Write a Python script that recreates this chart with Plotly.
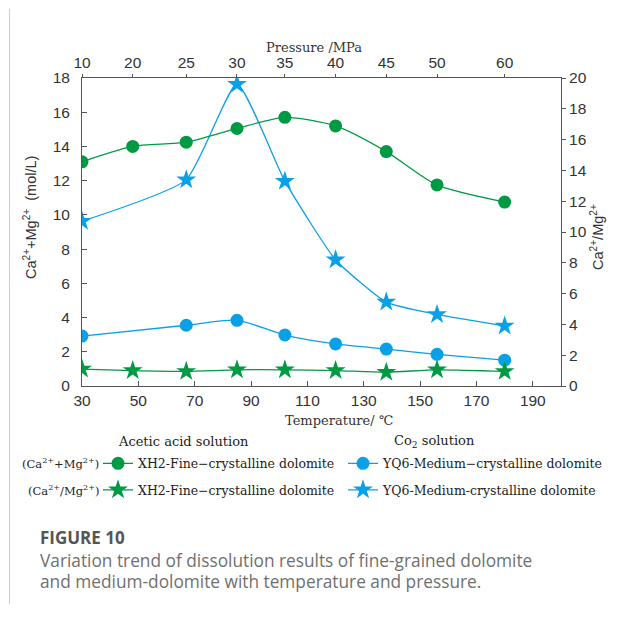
import plotly.graph_objects as go

# ---- data ----
temperature = [30, 48, 67, 85, 102, 120, 138, 156, 180]
pressure_labels = ["10", "20", "25", "30", "35", "40", "45", "50", "60"]
temperature_yq6 = [30, 67, 85, 102, 120, 138, 156, 180]

xh2_camg = [13.1, 14.0, 14.25, 15.05, 15.7, 15.2, 13.7, 11.75, 10.75]
yq6_camg = [2.92, 3.55, 3.84, 2.98, 2.46, 2.16, 1.85, 1.51]
xh2_ratio = [1.1, 1.0, 0.95, 1.05, 1.05, 1.0, 0.9, 1.05, 0.95]
yq6_ratio = [10.7, 13.4, 19.6, 13.3, 8.2, 5.45, 4.65, 3.9]

GREEN = "#009a44"
BLUE = "#0aa0e6"
AX = "#555555"
TXT = "#333333"

# page is offset by the 8px body margin
OFF = 8
PW, PH = 619, 621
W, H = PW - OFF, PH - OFF
L, R, T, B = 82, 561, 77.5, 386.5   # plot area in page pixels


def px(x):
    return (x - L) / (R - L)


def py(y):
    return (B - y) / (B - T)


fig = go.Figure()
fig.add_trace(go.Scatter(
    x=temperature, y=xh2_camg, mode="lines+markers", xaxis="x2", legend="legend",
    name="XH2-Fine−crystalline dolomite",
    line=dict(color=GREEN, width=1.3, shape="spline", smoothing=0.7),
    marker=dict(symbol="circle", size=13, color=GREEN),
))
fig.add_trace(go.Scatter(
    x=temperature_yq6, y=yq6_camg, mode="lines+markers", legend="legend2",
    name="YQ6-Medium−crystalline dolomite",
    line=dict(color=BLUE, width=1.3, shape="spline", smoothing=0.7),
    marker=dict(symbol="circle", size=13, color=BLUE),
))
fig.add_trace(go.Scatter(
    x=temperature, y=xh2_ratio, mode="lines+markers", yaxis="y2", legend="legend3",
    name="XH2-Fine−crystalline dolomite",
    line=dict(color=GREEN, width=1.3, shape="spline", smoothing=0.7),
    marker=dict(symbol="star", size=15, color=GREEN),
))
fig.add_trace(go.Scatter(
    x=temperature_yq6, y=yq6_ratio, mode="lines+markers", yaxis="y2", legend="legend4",
    name="YQ6-Medium-crystalline dolomite",
    line=dict(color=BLUE, width=1.3, shape="spline", smoothing=0.5),
    marker=dict(symbol="star", size=15, color=BLUE),
))

tickfont = dict(family="Liberation Sans, Arial", size=15.5, color=TXT)
serif = "DejaVu Serif"
legfont = dict(family=serif, size=12.5, color="#222222")
hdrfont = dict(family=serif, size=13, color="#222222")
rowfont = dict(family=serif, size=11.5, color="#222222")

leg_common = dict(orientation="h", xanchor="left", yanchor="middle",
                  font=legfont, bgcolor="rgba(0,0,0,0)", itemwidth=30)

ROW1, ROW2 = 464.5, 491
COL1, COL2 = 98, 343

fig.update_layout(
    width=W, height=H,
    margin=dict(l=L - OFF, r=PW - R, t=T - OFF, b=PH - B, autoexpand=False),
    paper_bgcolor="white", plot_bgcolor="white",
    showlegend=True,
    xaxis=dict(range=[30, 200], tickmode="array", tickvals=[30, 50, 70, 90, 110, 130, 150, 170, 190],
               ticks="inside", ticklen=5, tickcolor=AX, showline=True, linecolor=AX, linewidth=1,
               showgrid=False, zeroline=False, tickfont=tickfont),
    xaxis2=dict(range=[30, 200], overlaying="x", side="top", anchor="y", tickmode="array",
                tickvals=temperature, ticktext=pressure_labels,
                ticks="outside", ticklen=3, tickcolor=AX, showline=True, linecolor=AX, linewidth=1,
                showgrid=False, zeroline=False, tickfont=tickfont),
    yaxis=dict(range=[0, 18], dtick=2, ticks="inside", ticklen=5, tickcolor=AX, showline=True,
               linecolor=AX, linewidth=1, showgrid=False, zeroline=False, tickfont=tickfont,
               ticklabelstandoff=8),
    yaxis2=dict(range=[0, 20], dtick=2, overlaying="y", side="right", ticks="outside", ticklen=4,
                tickcolor=AX, showline=True, linecolor=AX, linewidth=1, showgrid=False,
                zeroline=False, tickfont=tickfont),
    legend=dict(x=px(COL1), y=py(ROW1), **leg_common),
    legend2=dict(x=px(COL2), y=py(ROW1), **leg_common),
    legend3=dict(x=px(COL1), y=py(ROW2), **leg_common),
    legend4=dict(x=px(COL2), y=py(ROW2), **leg_common),
)

capfont = "Open Sans"
ann = [
    dict(text="Ca<sup>2+</sup>+Mg<sup>2+</sup>  (mol/L)", x=px(30), y=py(218), textangle=-90,
         font=dict(family="Liberation Sans, Arial", size=14.5, color=TXT)),
    dict(text="Ca<sup>2+</sup>/Mg<sup>2+</sup>", x=px(597), y=py(237), textangle=-90,
         font=dict(family="Liberation Sans, Arial", size=14.5, color=TXT)),
    dict(text="Pressure /MPa", x=px(314), y=py(47), font=dict(family=serif, size=13, color=TXT)),
    dict(text="Temperature/ ℃", x=px(339), y=py(421), font=dict(family=serif, size=13, color=TXT)),
    dict(text="Acetic acid solution", x=px(183), y=py(442), font=hdrfont),
    dict(text="Co<sub>2</sub> solution", x=px(434), y=py(442), font=hdrfont),
    dict(text="(Ca<sup>2+</sup>+Mg<sup>2+</sup>)", x=px(101), y=py(ROW1), xanchor="right", font=rowfont),
    dict(text="(Ca<sup>2+</sup>/Mg<sup>2+</sup>)", x=px(101), y=py(ROW2), xanchor="right", font=rowfont),
    dict(text="<b>FIGURE 10</b>", x=px(38), y=py(538.5), xanchor="left",
         font=dict(family=capfont, size=17, color="#555555")),
    dict(text="Variation trend of dissolution results of fine-grained dolomite", x=px(38), y=py(561.5),
         xanchor="left", font=dict(family=capfont, size=17.3, color="#707070")),
    dict(text="and medium-dolomite with temperature and pressure.", x=px(38), y=py(583),
         xanchor="left", font=dict(family=capfont, size=17.3, color="#707070")),
]
for a in ann:
    a.setdefault("xanchor", "center")
    fig.add_annotation(xref="paper", yref="paper", yanchor="middle", showarrow=False, **a)

fig.add_shape(type="line", xref="paper", yref="paper", x0=px(9.5), x1=px(9.5), y0=py(OFF), y1=py(605),
              line=dict(color="#cccccc", width=1))

fig.write_html("out.html")
